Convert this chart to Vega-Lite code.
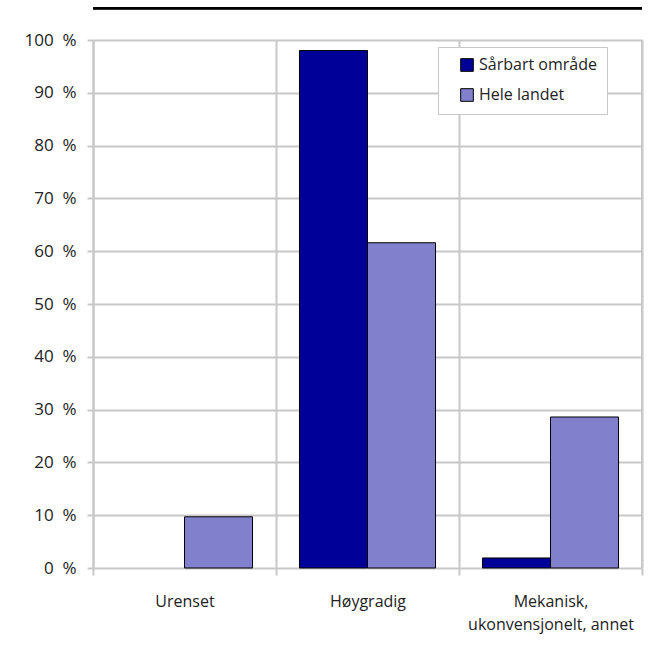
{
  "$schema": "https://vega.github.io/schema/vega-lite/v6.json",
  "autosize": "none",
  "width": 549,
  "height": 528,
  "padding": {"left": 93, "top": 40, "right": 11, "bottom": 80},
  "background": "white",
  "config": {
    "font": "Open Sans",
    "view": {"stroke": null},
    "axis": {"labelFont": "Open Sans", "labelFontSize": 16, "labelColor": "#222222"}
  },
  "data": {
    "values": [
      {"kategori": "Urenset", "serie": "Sårbart område", "verdi": 0},
      {"kategori": "Urenset", "serie": "Hele landet", "verdi": 9.7},
      {"kategori": "Høygradig", "serie": "Sårbart område", "verdi": 98},
      {"kategori": "Høygradig", "serie": "Hele landet", "verdi": 61.6},
      {"kategori": "Mekanisk, ukonvensjonelt, annet", "serie": "Sårbart område", "verdi": 1.9},
      {"kategori": "Mekanisk, ukonvensjonelt, annet", "serie": "Hele landet", "verdi": 28.6}
    ]
  },
  "layer": [
    {
      "mark": {"type": "bar", "stroke": "black", "strokeWidth": 1},
      "encoding": {
        "x": {
          "field": "kategori",
          "type": "nominal",
          "sort": null,
          "scale": {"paddingInner": 0, "paddingOuter": 0},
          "axis": {
            "title": null,
            "labelAngle": 0,
            "labelFontSize": 16,
            "tickBand": "extent",
            "grid": true,
            "gridColor": "#c8c8c8",
            "gridWidth": 2,
            "domain": false,
            "tickColor": "#c8c8c8",
            "tickWidth": 2,
            "tickSize": 7,
            "labelPadding": 18,
            "labelLineHeight": 23,
            "labelExpr": "datum.value == 'Mekanisk, ukonvensjonelt, annet' ? ['Mekanisk,', 'ukonvensjonelt, annet'] : datum.value"
          }
        },
        "xOffset": {
          "field": "serie",
          "type": "nominal",
          "sort": ["Sårbart område", "Hele landet"],
          "scale": {"paddingInner": 0, "paddingOuter": 0.345}
        },
        "y": {
          "field": "verdi",
          "type": "quantitative",
          "scale": {"domain": [0, 100], "nice": false},
          "axis": {
            "title": null,
            "labelFontSize": 17,
            "values": [0, 10, 20, 30, 40, 50, 60, 70, 80, 90, 100],
            "labelExpr": "datum.value + '\u00a0\u00a0%'",
            "grid": true,
            "gridColor": "#c8c8c8",
            "gridWidth": 2,
            "domainColor": "#c8c8c8",
            "domainWidth": 2,
            "tickColor": "#c8c8c8",
            "tickWidth": 2,
            "tickSize": 6,
            "labelPadding": 11
          }
        },
        "color": {
          "field": "serie",
          "type": "nominal",
          "sort": ["Sårbart område", "Hele landet"],
          "scale": {"domain": ["Sårbart område", "Hele landet"], "range": ["#000099", "#8080cc"]},
          "legend": {
            "title": null,
            "orient": "none",
            "legendX": 345,
            "legendY": 7,
            "fillColor": "white",
            "strokeColor": "#c8c8c8",
            "padding": 10,
            "symbolOffset": 11,
            "symbolType": "square",
            "symbolSize": 160,
            "symbolStrokeColor": "black",
            "symbolStrokeWidth": 1,
            "symbolOpacity": 1,
            "labelFontSize": 16,
            "labelFont": "Open Sans",
            "labelColor": "#222222",
            "rowPadding": 12,
            "labelOffset": 4
          }
        },
        "strokeOpacity": {
          "condition": {"test": "datum.verdi <= 0", "value": 0},
          "value": 1
        }
      }
    },
    {
      "mark": {"type": "rule", "color": "#c8c8c8", "strokeWidth": 2},
      "encoding": {"x": {"datum": "Mekanisk, ukonvensjonelt, annet", "type": "nominal", "bandPosition": 1}}
    },
    {
      "mark": {"type": "rule", "color": "black", "strokeWidth": 2, "clip": false},
      "encoding": {"y": {"datum": 106}}
    }
  ]
}
